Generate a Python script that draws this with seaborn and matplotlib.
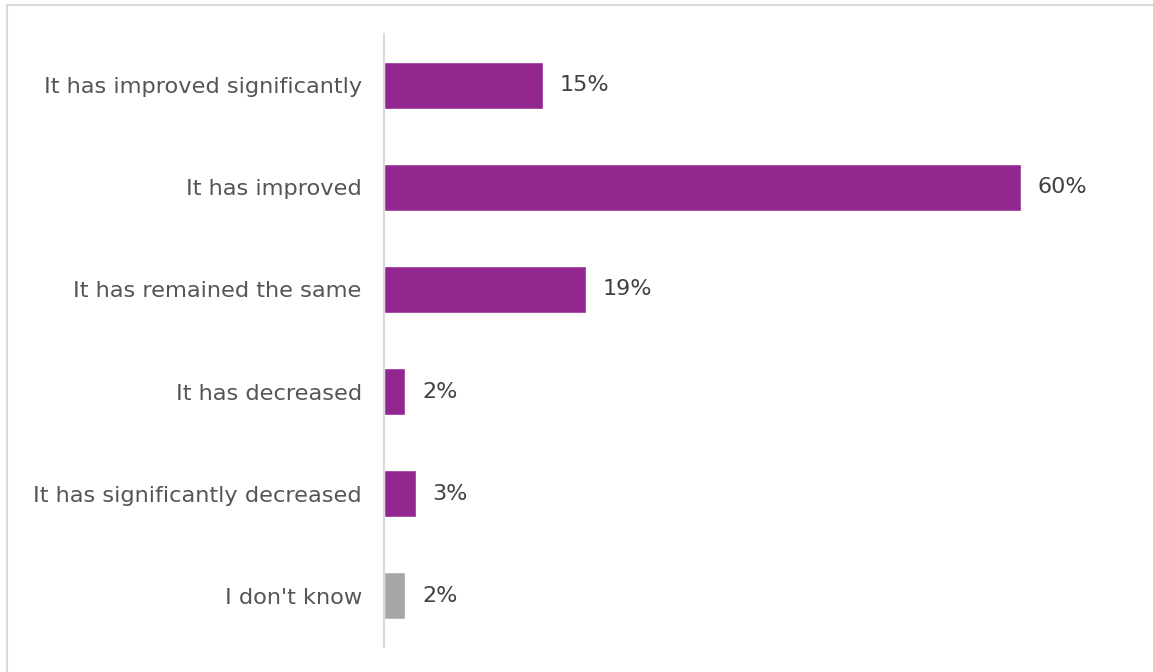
import matplotlib
matplotlib.use("Agg")
import matplotlib.pyplot as plt
from matplotlib.lines import Line2D
import seaborn as sns
import pandas as pd

# Survey responses and shares (percent)
categories = [
    "It has improved significantly",
    "It has improved",
    "It has remained the same",
    "It has decreased",
    "It has significantly decreased",
    "I don't know",
]
shares = [15, 60, 19, 2, 3, 2]
bar_colors = ["#92278F", "#92278F", "#92278F", "#92278F", "#92278F", "#A6A6A6"]
value_labels = ["15%", "60%", "19%", "2%", "3%", "2%"]

sns.set_theme(style="white")
plt.rcParams["font.family"] = ["DejaVu Sans"]

W, H = 1153, 672
fig = plt.figure(figsize=(W / 100, H / 100), dpi=100)
fig.patch.set_facecolor("white")

# axes placed in pixel terms: value axis starts at x=384, rows span y=34..647
x0, x_max = 384, 70
px_per_unit = 637 / 60
ax_w = x_max * px_per_unit
ax = fig.add_axes([x0 / W, 1 - 647 / H, ax_w / W, 613 / H])

df = pd.DataFrame({"category": categories, "share": shares})
sns.barplot(
    data=df, x="share", y="category", hue="category",
    palette=dict(zip(categories, bar_colors)), legend=False,
    width=0.46, saturation=1, ax=ax, orient="h",
)

ax.set_xlim(0, x_max)
ax.set_ylim(len(categories) - 0.5, -0.5)
ax.set_xlabel("")
ax.set_ylabel("")
ax.set_xticks([])
for side in ["top", "right", "bottom"]:
    ax.spines[side].set_visible(False)
ax.spines["left"].set_color("#D9D9D9")
ax.spines["left"].set_linewidth(1.5)
ax.tick_params(axis="y", length=0, pad=16, labelsize=16.2, labelcolor="#555555")
for t in ax.get_yticklabels():
    t.set_va("center_baseline")

for i, (v, lab) in enumerate(zip(shares, value_labels)):
    ax.annotate(lab, xy=(v, i), xytext=(12, 0), textcoords="offset points",
                va="center", ha="left", fontsize=16, color="#404040")

# light frame along the top and left edges
fig.add_artist(Line2D([7 / W, 1], [1 - 4.5 / H, 1 - 4.5 / H],
                      transform=fig.transFigure, color="#D9D9D9", lw=1.5))
fig.add_artist(Line2D([7 / W, 7 / W], [0, 1 - 4.5 / H],
                      transform=fig.transFigure, color="#D9D9D9", lw=1.5))

fig.savefig("out.png", dpi=100, facecolor="white")
